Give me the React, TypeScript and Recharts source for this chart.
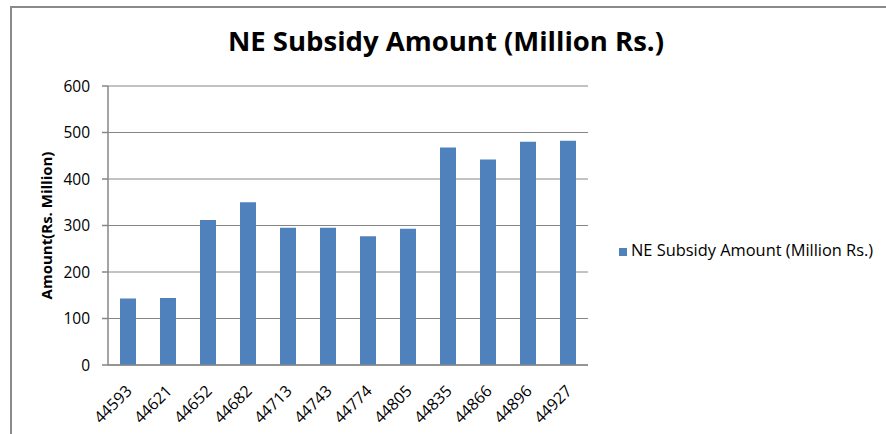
import { BarChart, Bar, XAxis, YAxis, CartesianGrid, Legend } from 'recharts';

const MONTHS = ['44593', '44621', '44652', '44682', '44713', '44743', '44774', '44805', '44835', '44866', '44896', '44927'];
const SUBSIDY = [143, 144, 312, 350, 295, 295, 277, 293, 468, 442, 480, 482];
const Y_TICKS = [0, 100, 200, 300, 400, 500, 600];

const SERIES_NAME = 'NE Subsidy Amount (Million Rs.)';
const FONT = '"Open Sans", "Noto Sans", sans-serif';
const GRID = '#868686';
const BLUE = '#4F81BD';

const chartData = MONTHS.map((m, i) => ({ month: m, value: SUBSIDY[i] }));
// tick marks sit on category boundaries, not centres
const EDGE_TICKS = [...MONTHS.map((_, i) => i), MONTHS.length];

function MonthTick(props: any) {
  const { x, y, payload } = props;
  return (
    <g transform={`translate(${x + 5},${y + 27})`}>
      <text textAnchor="end" transform="rotate(-45)" fontSize={16} fill="#000" fontFamily={FONT}>
        {payload.value}
      </text>
    </g>
  );
}

export default function App() {
  return (
    <div style={{ position: 'absolute', left: 0, top: 0, width: 886, height: 434, background: '#fff', overflow: 'hidden' }}>
      <div
        style={{
          position: 'absolute',
          left: 10,
          top: 6,
          right: -10,
          bottom: -10,
          borderLeft: '2px solid #8a8a8a',
          borderTop: '2px solid #8a8a8a',
        }}
      />
      <div
        style={{
          position: 'absolute',
          left: 0,
          width: 892,
          top: 22,
          textAlign: 'center',
          fontFamily: FONT,
          fontWeight: 700,
          fontSize: 27.5,
          color: '#000',
          whiteSpace: 'nowrap',
        }}
      >
        {SERIES_NAME}
      </div>
      <BarChart
        width={886}
        height={434}
        data={chartData}
        margin={{ top: 86, right: 298, bottom: 0, left: 0 }}
        barCategoryGap="30%"
        style={{ position: 'absolute', left: 0, top: 0 }}
      >
        <CartesianGrid vertical={false} stroke={GRID} strokeWidth={1} />
        <XAxis
          xAxisId="edge"
          type="number"
          domain={[0, MONTHS.length]}
          ticks={EDGE_TICKS}
          interval={0}
          height={0}
          axisLine={false}
          tickLine={{ stroke: GRID, strokeWidth: 1.5 }}
          tickSize={5}
          tick={() => <g />}
        />
        <XAxis
          dataKey="month"
          height={69}
          interval={0}
          axisLine={{ stroke: GRID, strokeWidth: 1.5 }}
          tickLine={false}
          tickSize={0}
          tickMargin={0}
          tick={<MonthTick />}
        />
        <YAxis
          width={108}
          domain={[0, 600]}
          ticks={Y_TICKS}
          interval={0}
          axisLine={{ stroke: GRID, strokeWidth: 1.5 }}
          tickLine={{ stroke: GRID, strokeWidth: 1.5 }}
          tickSize={6}
          tickMargin={12}
          tick={{ fontSize: 15.5, fill: '#000', fontFamily: FONT }}
          label={{
            content: (p: any) => {
              const vb = p.viewBox;
              const cy = vb.y + vb.height / 2;
              return (
                <text
                  x={46}
                  y={cy}
                  transform={`rotate(-90, 46, ${cy})`}
                  textAnchor="middle"
                  dominantBaseline="central"
                  fontSize={15}
                  fontWeight={700}
                  fontFamily={FONT}
                  fill="#000"
                >
                  Amount(Rs. Million)
                </text>
              );
            },
          }}
        />
        <Legend
          layout="vertical"
          align="center"
          verticalAlign="middle"
          iconType="square"
          iconSize={8}
          wrapperStyle={{ left: 619, top: 238, right: 'auto', bottom: 'auto', width: 270 }}
          formatter={(value) => (
            <span style={{ color: '#000', fontSize: 16.4, fontFamily: FONT }}>{value}</span>
          )}
        />
        <Bar dataKey="value" name={SERIES_NAME} fill={BLUE} isAnimationActive={false} />
      </BarChart>
    </div>
  );
}
